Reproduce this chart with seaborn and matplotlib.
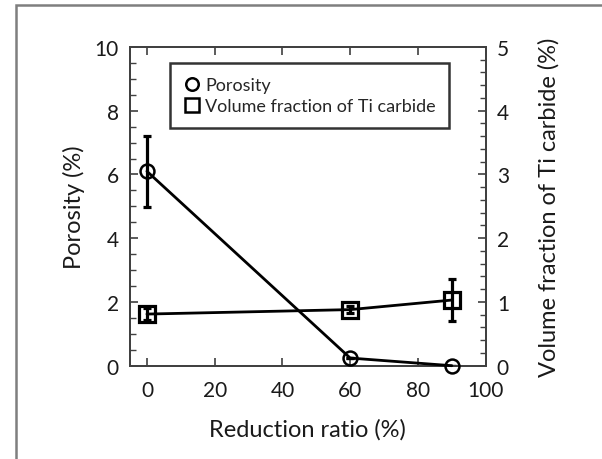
import matplotlib
matplotlib.use("Agg")
import matplotlib.pyplot as plt
import seaborn as sns
import pandas as pd
from matplotlib.patches import Rectangle
from matplotlib.lines import Line2D
from matplotlib.ticker import MultipleLocator

reduction = [0, 60, 90]
porosity = [6.1, 0.24, 0.0]
porosity_err = [1.12, 0.0, 0.0]
carbide = [0.81, 0.88, 1.03]
carbide_err = [0.1, 0.06, 0.33]

sns.set_theme(style="white")
plt.rcParams['font.family'] = ['Lato', 'DejaVu Sans']

fig = plt.figure(figsize=(6.02, 4.6), dpi=100)
ax = fig.add_axes([130/602, 1-366.7/460, (485.7-130)/602, (366.7-48)/460])
ax2 = ax.twinx()

# outer frame (partial)
fig.patches.append(Rectangle((16/602, -0.1), 1.2, (1 - 6/460) + 0.1, transform=fig.transFigure,
                             fill=False, edgecolor='#7f7f7f', lw=1.8, zorder=-1))

df1 = pd.DataFrame({"x": reduction, "y": porosity})
df2 = pd.DataFrame({"x": reduction, "y": carbide})

ax.errorbar(reduction, porosity, yerr=porosity_err, fmt='none', ecolor='black',
            elinewidth=2.3, capsize=3.2, capthick=2.3, zorder=2)
sns.lineplot(data=df1, x="x", y="y", ax=ax, color='black', lw=2.0, marker='o',
             markersize=10, markerfacecolor='none', markeredgecolor='black',
             markeredgewidth=1.8, zorder=3, clip_on=False)

ax2.errorbar(reduction, carbide, yerr=carbide_err, fmt='none', ecolor='black',
             elinewidth=2.3, capsize=3.2, capthick=2.3, zorder=2)
sns.lineplot(data=df2, x="x", y="y", ax=ax2, color='black', lw=2.0, marker='s',
             markersize=11, markerfacecolor='none', markeredgecolor='black',
             markeredgewidth=2.3, zorder=3, clip_on=False)

ax.set_xlim(-5, 100)
ax.set_ylim(0, 10)
ax2.set_ylim(0, 5)

ax.xaxis.set_major_locator(MultipleLocator(20))
ax.yaxis.set_major_locator(MultipleLocator(2))
ax.yaxis.set_minor_locator(MultipleLocator(0.5))
ax2.yaxis.set_major_locator(MultipleLocator(1))
ax2.yaxis.set_minor_locator(MultipleLocator(0.2))

spc = '#404040'
for a in (ax, ax2):
    for s in a.spines.values():
        s.set_color(spc)
        s.set_linewidth(1.3)
        s.set_visible(True)

tfs = 15
ax.tick_params(axis='x', which='major', direction='in', length=6, width=1.2, color=spc,
               top=True, bottom=True, labelsize=tfs, pad=10, labelcolor='#1a1a1a')
ax.tick_params(axis='y', which='major', direction='in', length=6, width=1.2, color=spc,
               left=True, right=False, labelsize=tfs, pad=8, labelcolor='#1a1a1a')
ax.tick_params(axis='y', which='minor', direction='in', length=4, width=1.0, color=spc, left=True)
ax2.tick_params(axis='y', which='major', direction='in', length=6, width=1.2, color=spc,
                right=True, labelsize=tfs, pad=8, labelcolor='#1a1a1a')
ax2.tick_params(axis='y', which='minor', direction='in', length=4, width=1.0, color=spc, right=True)

lfs = 17
ax.set_xlabel("Reduction ratio (%)", fontsize=lfs, labelpad=13, color='#1a1a1a')
ax.set_ylabel("Porosity (%)", fontsize=lfs, labelpad=7, color='#1a1a1a')
ax2.set_ylabel("Volume fraction of Ti carbide (%)", fontsize=lfs, labelpad=21, color='#1a1a1a')
ax2.grid(False)
ax.grid(False)

handles = [Line2D([], [], ls='none', marker='o', markersize=9, markerfacecolor='none',
                  markeredgecolor='black', markeredgewidth=1.8),
           Line2D([], [], ls='none', marker='s', markersize=9.5, markerfacecolor='none',
                  markeredgecolor='black', markeredgewidth=1.8)]
leg = ax.legend(handles, ["Porosity", "Volume fraction of Ti carbide"], loc='upper left',
                bbox_to_anchor=((170-130)/355.7, 1-(64.3-48)/318.7), fontsize=13,
                frameon=True, fancybox=False, edgecolor='black', handletextpad=0.3,
                handlelength=0.9, borderpad=0.75, labelspacing=0.3, borderaxespad=0)
leg.get_frame().set_linewidth(1.8)
ax.set_zorder(ax2.get_zorder() + 1)
ax.patch.set_visible(False)

fig.savefig("out.png", dpi=100)
